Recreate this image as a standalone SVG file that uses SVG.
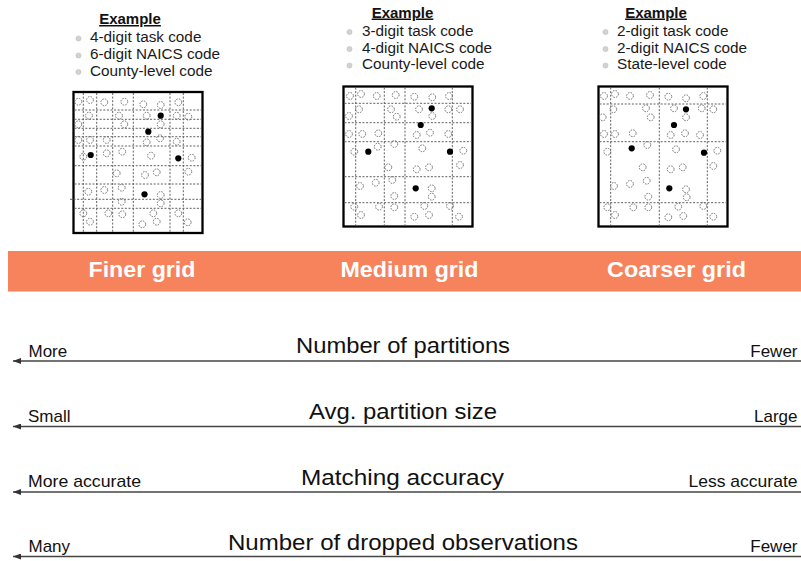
<svg xmlns="http://www.w3.org/2000/svg" xmlns:xlink="http://www.w3.org/1999/xlink" width="801" height="561" viewBox="0 0 801 561">
<style>
text{font-family:"Liberation Sans",Arial,Helvetica,sans-serif;fill:#111}
.ex{font-size:15px;font-weight:bold;text-anchor:middle;text-decoration:underline}
.bl{font-size:15.3px;fill:#1a1a1a}
.bd{fill:#d2d2d2;stroke:#bdbdbd;stroke-width:0.5}
.frame{fill:#fff;stroke:#000;stroke-width:2.3}
.gl{stroke:#5f5f5f;stroke-width:1;stroke-dasharray:2 1.6;fill:none}
.dc{fill:none;stroke:#707070;stroke-width:1;stroke-dasharray:1.5 1.2}
.dot{fill:#000}
.band{fill:#F7835D}
.bt{font-size:21.5px;font-weight:bold;fill:#fff;text-anchor:middle}
.ax{stroke:#444;stroke-width:1.3;fill:none}
.title{font-size:21.5px;text-anchor:middle}
.lab{font-size:17px}
.rlab{font-size:17px;text-anchor:end}
</style>
<defs>
<circle id="c" r="3.4" class="dc"/>
<circle id="d" r="3.1" class="dot"/>
<marker id="ah" markerUnits="userSpaceOnUse" markerWidth="9" markerHeight="6" refX="8" refY="3" orient="auto">
<path d="M0,0 L8,3 L0,6 z" fill="#333"/>
</marker>
</defs>

<g id="example-fine">
<text class="ex" x="130" y="24">Example</text>
<circle class="bd" cx="78.5" cy="38.5" r="2.6"/>
<circle class="bd" cx="78.5" cy="55.5" r="2.6"/>
<circle class="bd" cx="78.5" cy="72" r="2.6"/>
<text class="bl" x="90" y="42">4-digit task code</text>
<text class="bl" x="90" y="59">6-digit NAICS code</text>
<text class="bl" x="90" y="75.5">County-level code</text>
</g>

<g id="example-medium">
<text class="ex" x="402.5" y="17.5">Example</text>
<circle class="bd" cx="349.5" cy="32" r="2.6"/>
<circle class="bd" cx="349.5" cy="49" r="2.6"/>
<circle class="bd" cx="349.5" cy="65.5" r="2.6"/>
<text class="bl" x="362" y="35.5">3-digit task code</text>
<text class="bl" x="362" y="52.5">4-digit NAICS code</text>
<text class="bl" x="362" y="69">County-level code</text>
</g>

<g id="example-coarse">
<text class="ex" x="656" y="17.5">Example</text>
<circle class="bd" cx="605.5" cy="32" r="2.6"/>
<circle class="bd" cx="605.5" cy="49" r="2.6"/>
<circle class="bd" cx="605.5" cy="65.5" r="2.6"/>
<text class="bl" x="617" y="35.5">2-digit task code</text>
<text class="bl" x="617" y="52.5">2-digit NAICS code</text>
<text class="bl" x="617" y="69">State-level code</text>
</g>

<g id="grid-fine">
<rect class="frame" x="73.5" y="92" width="129" height="141"/>
<path class="gl" d="M83.3,93V232M96.7,93V232M112.7,93V232M133.3,93V232M170,93V232M183.3,93V232M74.5,110H201.5M74.5,119.3H201.5M74.5,128.3H201.5M74.5,136.7H201.5M74.5,146H201.5M74.5,165.7H201.5M74.5,184H201.5M70,199.3H201.5M74.5,208.3H201.5"/>
<use href="#c" x="78.3" y="101.7"/><use href="#c" x="90" y="100"/><use href="#c" x="104.3" y="102.3"/><use href="#c" x="124.3" y="101.7"/><use href="#c" x="143.3" y="104.3"/><use href="#c" x="160.7" y="105"/><use href="#c" x="178.3" y="102.3"/>
<use href="#c" x="89" y="115.7"/><use href="#c" x="119" y="115.7"/><use href="#c" x="146.7" y="115.7"/><use href="#c" x="176.7" y="115.7"/><use href="#c" x="188.3" y="116.7"/>
<use href="#c" x="78.3" y="124.3"/><use href="#c" x="124.3" y="124.3"/><use href="#c" x="160.7" y="124.3"/>
<use href="#c" x="78.3" y="140"/><use href="#c" x="90" y="140"/><use href="#c" x="106.7" y="140"/><use href="#c" x="146.7" y="142.3"/><use href="#c" x="160" y="138.3"/><use href="#c" x="176.7" y="141.7"/>
<use href="#c" x="83.3" y="156.7"/><use href="#c" x="106.7" y="153.3"/><use href="#c" x="122.3" y="151.7"/><use href="#c" x="151" y="155.7"/><use href="#c" x="191.7" y="157.7"/>
<use href="#c" x="116.7" y="173.3"/><use href="#c" x="145" y="175"/><use href="#c" x="156.7" y="172.3"/><use href="#c" x="188.3" y="171.7"/>
<use href="#c" x="88.3" y="191.7"/><use href="#c" x="104.3" y="190"/><use href="#c" x="121.7" y="187.7"/><use href="#c" x="160.7" y="195"/>
<use href="#c" x="121.7" y="201.7"/><use href="#c" x="160.7" y="203.3"/>
<use href="#c" x="83.3" y="213.3"/><use href="#c" x="108.3" y="213.3"/><use href="#c" x="122.3" y="214.3"/><use href="#c" x="153.3" y="213.3"/><use href="#c" x="178.3" y="213.3"/>
<use href="#c" x="90" y="221.7"/><use href="#c" x="142.3" y="224.3"/><use href="#c" x="156.7" y="221.7"/><use href="#c" x="187.7" y="222.3"/>
<use href="#d" x="160.7" y="115.7"/><use href="#d" x="148.3" y="131.7"/><use href="#d" x="90.7" y="155"/><use href="#d" x="178.3" y="158.3"/><use href="#d" x="144.5" y="194.3"/>
</g>

<g id="grid-medium">
<rect class="frame" x="343.5" y="86.5" width="129" height="140"/>
<path class="gl" d="M355.7,87.5V225.5M384.3,87.5V225.5M405,87.5V225.5M452.3,87.5V225.5M344.5,103.3H471.5M344.5,122.7H471.5M344.5,141.7H471.5M344.5,176.7H471.5M344.5,202.7H471.5"/>
<use href="#c" x="350" y="96"/><use href="#c" x="361" y="94"/><use href="#c" x="376.7" y="96"/><use href="#c" x="395.7" y="95"/><use href="#c" x="414.3" y="96.7"/><use href="#c" x="432.3" y="97.3"/><use href="#c" x="449" y="96"/>
<use href="#c" x="359" y="109.3"/><use href="#c" x="391" y="109.3"/><use href="#c" x="419" y="109.3"/><use href="#c" x="448.3" y="109.3"/><use href="#c" x="460" y="109.3"/>
<use href="#c" x="349" y="116"/><use href="#c" x="396.7" y="116.7"/><use href="#c" x="432.3" y="116"/>
<use href="#c" x="349" y="134"/><use href="#c" x="362.3" y="134"/><use href="#c" x="378.3" y="133.3"/><use href="#c" x="416.7" y="135"/><use href="#c" x="430" y="132.7"/><use href="#c" x="448.3" y="134"/>
<use href="#c" x="354.3" y="151.7"/><use href="#c" x="377.7" y="146.7"/><use href="#c" x="394.3" y="144"/><use href="#c" x="422.3" y="148.3"/><use href="#c" x="463.3" y="150.7"/>
<use href="#c" x="388.3" y="167.3"/><use href="#c" x="416.7" y="169.3"/><use href="#c" x="429" y="167.3"/><use href="#c" x="460" y="165"/>
<use href="#c" x="360" y="186"/><use href="#c" x="375.7" y="182.7"/><use href="#c" x="392.3" y="180"/><use href="#c" x="431.7" y="188.3"/>
<use href="#c" x="394.3" y="196"/><use href="#c" x="431.7" y="196.7"/>
<use href="#c" x="354.3" y="206.7"/><use href="#c" x="379" y="206.7"/><use href="#c" x="394.3" y="207.3"/><use href="#c" x="424.3" y="206"/><use href="#c" x="450" y="206"/>
<use href="#c" x="361" y="215"/><use href="#c" x="414.3" y="216.7"/><use href="#c" x="429" y="215"/><use href="#c" x="459" y="216.7"/>
<use href="#d" x="431.7" y="108.3"/><use href="#d" x="420.7" y="125"/><use href="#d" x="368.3" y="151.7"/><use href="#d" x="450" y="151.7"/><use href="#d" x="415.7" y="188.3"/>
</g>

<g id="grid-coarse">
<rect class="frame" x="598.5" y="86.5" width="129" height="140"/>
<path class="gl" d="M610.7,87.5V225.5M659.3,87.5V225.5M707.3,87.5V225.5M599.5,104H726.5M599.5,141.7H726.5M599.5,202.7H726.5"/>
<use href="#c" x="604" y="96"/><use href="#c" x="615" y="94"/><use href="#c" x="630" y="96"/><use href="#c" x="650" y="95"/><use href="#c" x="668.3" y="96.7"/><use href="#c" x="686" y="98.3"/><use href="#c" x="703.3" y="96"/>
<use href="#c" x="613.3" y="109.3"/><use href="#c" x="646" y="108.3"/><use href="#c" x="674" y="108.3"/><use href="#c" x="701.7" y="108.3"/><use href="#c" x="713.3" y="109.3"/>
<use href="#c" x="602.7" y="117.3"/><use href="#c" x="650.7" y="117.3"/><use href="#c" x="686" y="117.3"/>
<use href="#c" x="604" y="134"/><use href="#c" x="615" y="134"/><use href="#c" x="632.7" y="133.3"/><use href="#c" x="670.7" y="135"/><use href="#c" x="685" y="133.3"/><use href="#c" x="700" y="135"/>
<use href="#c" x="607.3" y="151.7"/><use href="#c" x="647.3" y="145"/><use href="#c" x="676" y="149.3"/><use href="#c" x="717.3" y="150.7"/>
<use href="#c" x="642.7" y="167.3"/><use href="#c" x="670.7" y="169.3"/><use href="#c" x="682.7" y="167.3"/><use href="#c" x="713.3" y="166"/>
<use href="#c" x="614" y="186"/><use href="#c" x="630" y="184"/><use href="#c" x="646.7" y="180.7"/><use href="#c" x="686" y="189.3"/>
<use href="#c" x="648.3" y="196.7"/><use href="#c" x="686.7" y="197.3"/>
<use href="#c" x="607.3" y="207.3"/><use href="#c" x="633.3" y="207.3"/><use href="#c" x="648.3" y="207.3"/><use href="#c" x="678.3" y="206.7"/><use href="#c" x="703.3" y="206"/>
<use href="#c" x="615" y="215"/><use href="#c" x="668.3" y="217.3"/><use href="#c" x="683.3" y="216"/><use href="#c" x="713.3" y="216.7"/>
<use href="#d" x="686" y="109.3"/><use href="#d" x="674" y="125"/><use href="#d" x="631.7" y="148.3"/><use href="#d" x="704" y="152.7"/><use href="#d" x="669.3" y="188.3"/>
</g>

<g id="band">
<rect class="band" x="8" y="251" width="793" height="40.5"/>
<text class="bt" x="142" y="277" textLength="107" lengthAdjust="spacingAndGlyphs">Finer grid</text>
<text class="bt" x="409.5" y="277" textLength="138" lengthAdjust="spacingAndGlyphs">Medium grid</text>
<text class="bt" x="676.5" y="277" textLength="139" lengthAdjust="spacingAndGlyphs">Coarser grid</text>
</g>

<g id="connectors">
<line class="ax" x1="801" y1="361" x2="13" y2="361" marker-end="url(#ah)"/>
<line class="ax" x1="801" y1="426.5" x2="13" y2="426.5" marker-end="url(#ah)"/>
<line class="ax" x1="801" y1="492" x2="13" y2="492" marker-end="url(#ah)"/>
<line class="ax" x1="801" y1="556.5" x2="13" y2="556.5" marker-end="url(#ah)"/>
</g>

<g id="axis-partitions">
<text class="lab" x="28.5" y="356.5">More</text>
<text class="title" x="403" y="353" textLength="214" lengthAdjust="spacingAndGlyphs">Number of partitions</text>
<text class="rlab" x="797.5" y="356.5">Fewer</text>
</g>
<g id="axis-size">
<text class="lab" x="28" y="422">Small</text>
<text class="title" x="403" y="419" textLength="188" lengthAdjust="spacingAndGlyphs">Avg. partition size</text>
<text class="rlab" x="797.5" y="422">Large</text>
</g>
<g id="axis-accuracy">
<text class="lab" x="28" y="487" textLength="113" lengthAdjust="spacingAndGlyphs">More accurate</text>
<text class="title" x="402.5" y="484.5" textLength="203" lengthAdjust="spacingAndGlyphs">Matching accuracy</text>
<text class="rlab" x="797.5" y="487" textLength="109" lengthAdjust="spacingAndGlyphs">Less accurate</text>
</g>
<g id="axis-dropped">
<text class="lab" x="28.5" y="551.5">Many</text>
<text class="title" x="403" y="549.5" textLength="350" lengthAdjust="spacingAndGlyphs">Number of dropped observations</text>
<text class="rlab" x="797.5" y="551.5">Fewer</text>
</g>
</svg>
